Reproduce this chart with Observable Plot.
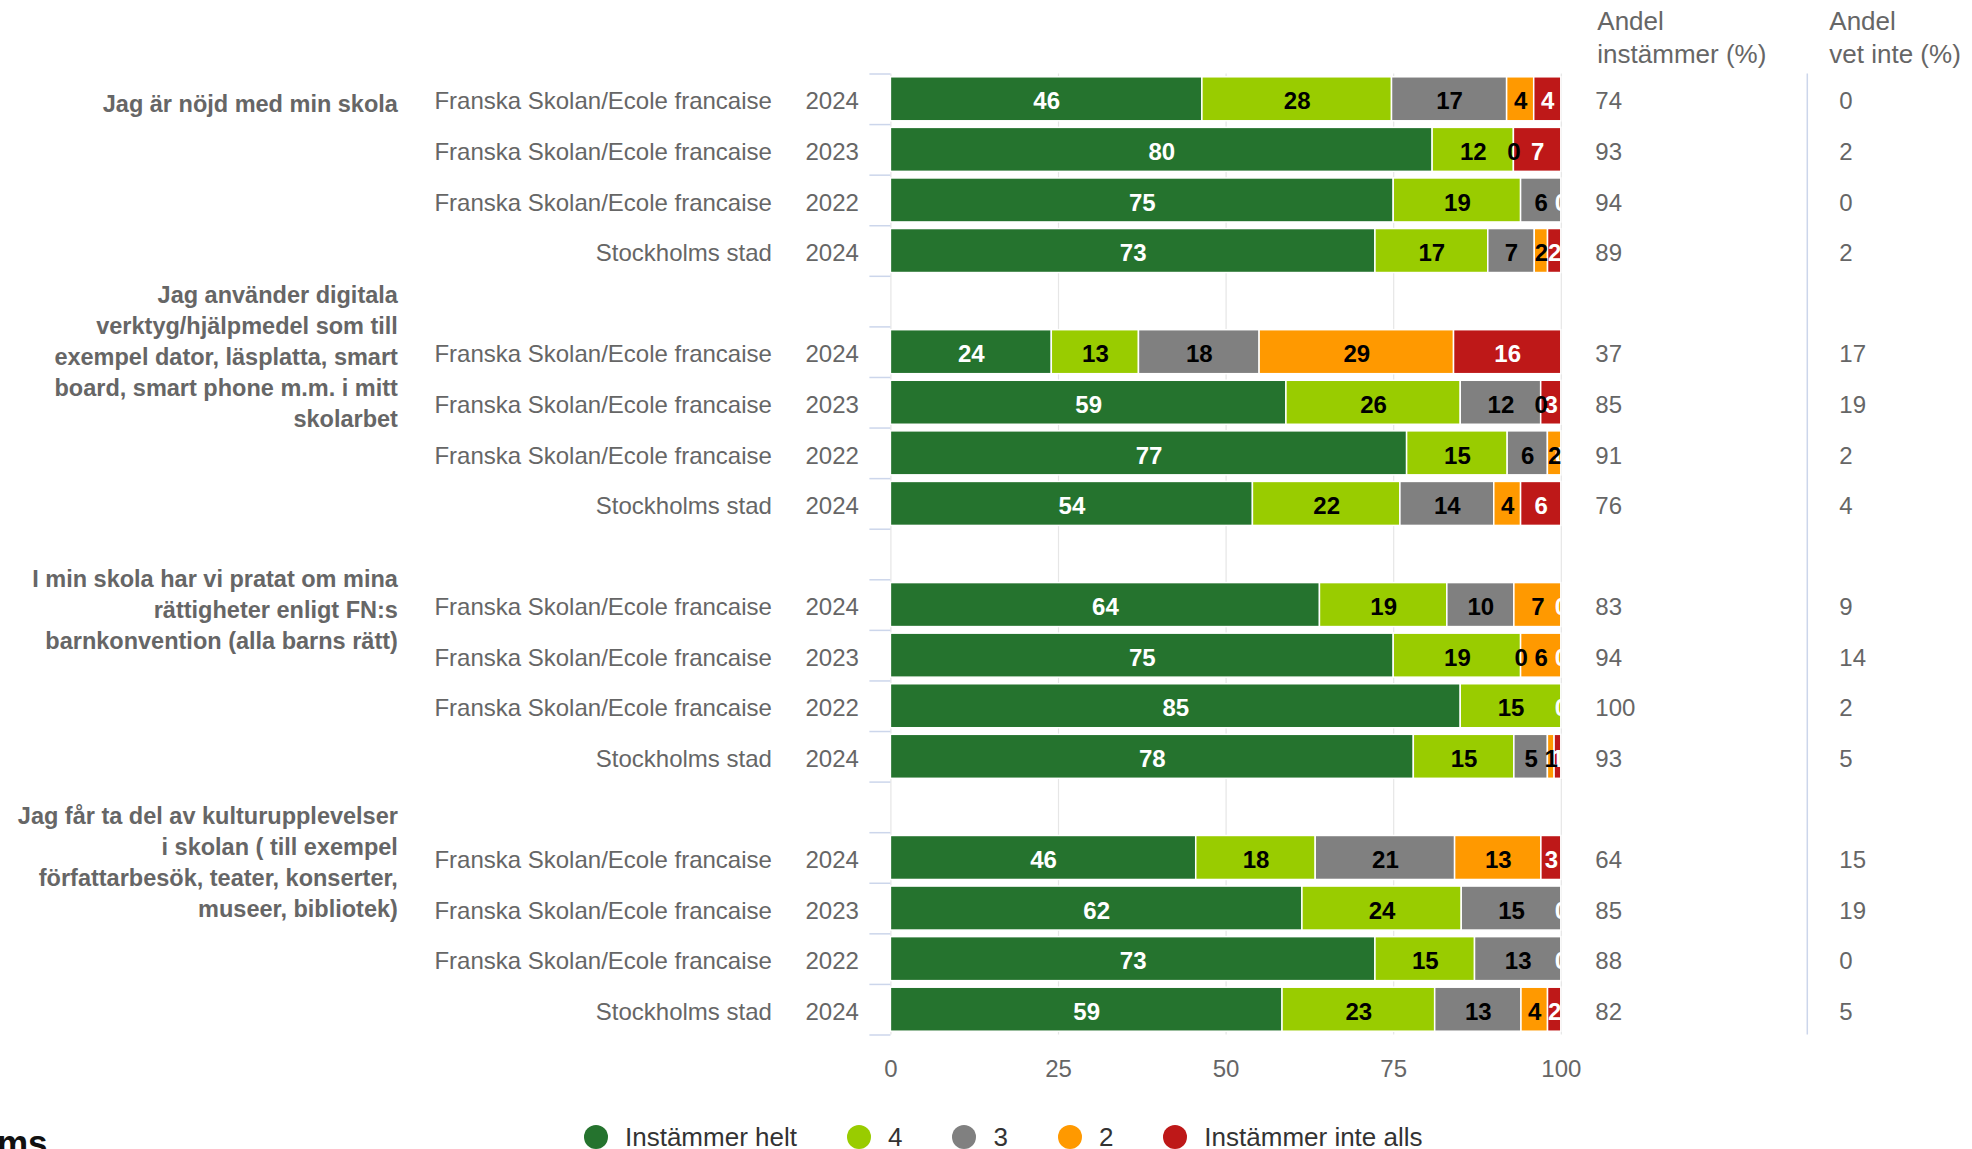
<!DOCTYPE html>
<html>
<head>
<meta charset="utf-8">
<script src="https://cdn.jsdelivr.net/npm/d3@7"></script>
<script src="https://cdn.jsdelivr.net/npm/@observablehq/plot@0.6"></script>
<style>
  html, body { margin: 0; padding: 0; background: #fff; overflow: hidden; }
  body { width: 1972px; height: 1149px; position: relative; font-family: "Liberation Sans", Arial, sans-serif; }
  #legend { position: absolute; left: 584px; top: 1117px; height: 40px; display: flex; align-items: center; font-size: 26px; color: #333; white-space: nowrap; }
  .item { display: flex; align-items: center; margin-right: 50px; }
  .dot { width: 24px; height: 24px; border-radius: 50%; margin-right: 17px; }
  #logo { position: absolute; left: -3px; top: 1125px; font-size: 35px; line-height: 35px; font-weight: bold; color: #111; }
</style>
</head>
<body>
<div id="chart"></div>
<div id="legend"></div>
<div id="logo">ms</div>
<script>
// ---- data ----
const categories = ["Instämmer helt", "4", "3", "2", "Instämmer inte alls"];
const colors = ["#25732e", "#99cc00", "#808080", "#ff9900", "#be1818"];
const labelColors = ["white", "black", "black", "black", "white"];

const questions = [
  "Jag är nöjd med min skola",
  "Jag använder digitala\nverktyg/hjälpmedel som till\nexempel dator, läsplatta, smart\nboard, smart phone m.m. i mitt\nskolarbet",
  "I min skola har vi pratat om mina\nrättigheter enligt FN:s\nbarnkonvention (alla barns rätt)",
  "Jag får ta del av kulturupplevelser\ni skolan ( till exempel\nförfattarbesök, teater, konserter,\nmuseer, bibliotek)"
];
const units = ["Franska Skolan/Ecole francaise", "Franska Skolan/Ecole francaise", "Franska Skolan/Ecole francaise", "Stockholms stad"];
const years = ["2024", "2023", "2022", "2024"];

// values per question: rows (units/years) x categories
const q1Values = [[46, 28, 17, 4, 4], [80, 12, 0, 0, 7], [75, 19, 6, 0, 0], [73, 17, 7, 2, 2]];
const q2Values = [[24, 13, 18, 29, 16], [59, 26, 12, 0, 3], [77, 15, 6, 2, 0], [54, 22, 14, 4, 6]];
const q3Values = [[64, 19, 10, 7, 0], [75, 19, 0, 6, 0], [85, 15, 0, 0, 0], [78, 15, 5, 1, 1]];
const q4Values = [[46, 18, 21, 13, 3], [62, 24, 15, 0, 0], [73, 15, 13, 0, 0], [59, 23, 13, 4, 2]];

const agreeShare = [[74, 93, 94, 89], [37, 85, 91, 76], [83, 94, 100, 93], [64, 85, 88, 82]];
const dontKnowShare = [[0, 2, 0, 2], [17, 19, 2, 4], [9, 14, 2, 5], [15, 19, 0, 5]];

const xTicks = [0, 25, 50, 75, 100];

// ---- build tables ----
const allValues = [q1Values, q2Values, q3Values, q4Values];
const domain = [];
const rows = [];
const segments = [];
allValues.forEach((qv, q) => {
  qv.forEach((vals, r) => {
    const key = `${q}-${r}`;
    domain.push(key);
    rows.push({key, q, r, unit: units[r], year: years[r], agree: agreeShare[q][r], dk: dontKnowShare[q][r]});
    vals.forEach((v, c) => {
      const next = vals[c + 1];
      const show = v > 0 || !(next !== undefined && next === 0);
      segments.push({key, cat: categories[c], ci: c, value: v, show});
    });
  });
  if (q < allValues.length - 1) domain.push(`gap${q}`);
});
const questionRows = questions.map((t, q) => ({key: `${q}-0`, text: t}));

const W = 1972, H = 1105;
const mTop = 73.5, mBottom = H - 1034.5, mLeft = 890.4, mRight = W - 1560.8;
const step = (H - mTop - mBottom) / domain.length;
const font = "'Liberation Sans', Arial, sans-serif";
const tdy = 2.5;

const stackOpts = (extra) => Plot.stackX({x: "value", y: "key", z: "cat", offset: "normalize", ...extra});

const chart = Plot.plot({
  width: W,
  height: H,
  marginTop: mTop,
  marginBottom: mBottom,
  marginLeft: mLeft,
  marginRight: mRight,
  style: {fontFamily: font, background: "#fff", overflow: "visible"},
  x: {domain: [0, 1], label: null},
  y: {domain, paddingInner: 0.13, paddingOuter: 0.065, align: 0.5, round: false, label: null},
  color: {domain: categories, range: colors},
  marks: [
    Plot.gridX({ticks: xTicks.map(d => d / 100), stroke: "#e6e6e6", strokeOpacity: 1, strokeWidth: 1.2}),
    Plot.axisX({ticks: xTicks.map(d => d / 100), tickFormat: d => Math.round(d * 100), tickSize: 0, tickPadding: 25, fontSize: 24, fill: "#666", label: null}),
    Plot.axisY({tickSize: 21, tickFormat: () => "", stroke: "#ccd6eb", strokeWidth: 1.5, dy: -step / 2, label: null}),
    Plot.axisY({ticks: [domain[domain.length - 1]], tickSize: 21, tickFormat: () => "", stroke: "#ccd6eb", strokeWidth: 1.5, dy: step / 2, label: null}),
    Plot.ruleX([1], {dx: 246, stroke: "#ccd6eb", strokeWidth: 1.5}),
    Plot.barX(segments, stackOpts({fill: "cat", stroke: "white", strokeWidth: 1.5})),
    Plot.text(segments, stackOpts({text: d => (d.show && labelColors[d.ci] === "white") ? String(d.value) : "", fill: "white", fontSize: 24, fontWeight: "bold", clip: "frame", dy: tdy})),
    Plot.text(segments, stackOpts({text: d => (d.show && labelColors[d.ci] === "black") ? String(d.value) : "", fill: "black", fontSize: 24, fontWeight: "bold", clip: "frame", dy: tdy})),
    // left labels
    Plot.text(rows, {y: "key", text: "year", frameAnchor: "left", textAnchor: "end", dx: -32, dy: tdy, fontSize: 24, fill: "#666"}),
    Plot.text(rows, {y: "key", text: "unit", frameAnchor: "left", textAnchor: "end", dx: -119, dy: tdy, fontSize: 24, fill: "#666"}),
    Plot.text(questionRows, {y: "key", text: "text", frameAnchor: "left", textAnchor: "end", dx: -493, dy: tdy, fontSize: 23.5, fontWeight: "bold", lineHeight: 1.32, fill: "#666"}),
    // right columns
    Plot.text(rows, {y: "key", text: d => String(d.agree), frameAnchor: "right", textAnchor: "start", dx: 34, dy: tdy, fontSize: 24, fill: "#666"}),
    Plot.text(rows, {y: "key", text: d => String(d.dk), frameAnchor: "right", textAnchor: "start", dx: 278, dy: tdy, fontSize: 24, fill: "#666"}),
    Plot.text(["Andel\ninstämmer (%)"], {frameAnchor: "top-right", textAnchor: "start", lineAnchor: "top", dx: 36, dy: -67, fontSize: 26, lineHeight: 1.25, fill: "#666"}),
    Plot.text(["Andel\nvet inte (%)"], {frameAnchor: "top-right", textAnchor: "start", lineAnchor: "top", dx: 268, dy: -67, fontSize: 26, lineHeight: 1.25, fill: "#666"})
  ]
});
document.getElementById("chart").appendChild(chart);

// legend
const legend = document.getElementById("legend");
categories.forEach((c, i) => {
  const item = document.createElement("div");
  item.className = "item";
  const dot = document.createElement("span");
  dot.className = "dot";
  dot.style.background = colors[i];
  const label = document.createElement("span");
  label.textContent = c;
  item.appendChild(dot);
  item.appendChild(label);
  legend.appendChild(item);
});
</script>
</body>
</html>
